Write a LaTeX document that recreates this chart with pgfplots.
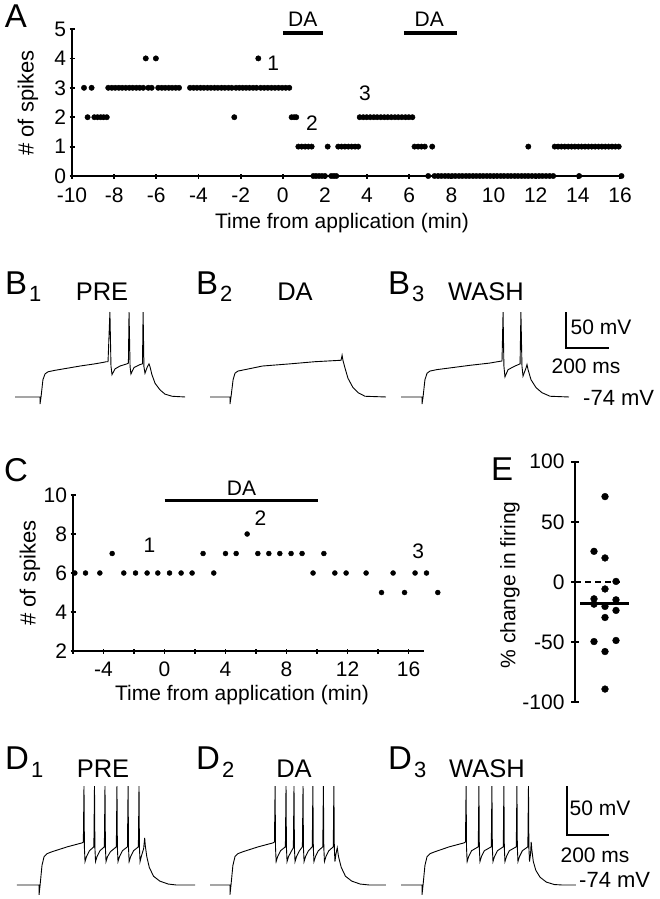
\documentclass[border=0pt]{standalone}
\usepackage{pgfplots}
\pgfplotsset{compat=1.18}
\usepackage{fontspec}
\setmainfont{Liberation Sans}
\newcommand{\fs}[1]{\fontsize{#1}{#1}\selectfont}
\pgfplotsset{
  trace/.style={scale only axis, axis lines=none, xmin=0, xmax=1000, ymin=-90, ymax=50, width=210pt, clip=false},
  panel/.style={scale only axis, clip=false,
     tick align=outside, major tick length=5pt, tick style={line width=1.8pt,black},
     tick label style={font=\fs{21}}},
  nolinearrows/.style={axis line style={-,line width=2pt},
     every outer x axis line/.append style={-,line width=2pt},
     every outer y axis line/.append style={-,line width=2pt},
     x axis line style={-}, y axis line style={-}},
}
\begin{document}
\begin{tikzpicture}
\path[use as bounding box] (0,0) rectangle (659pt,-899pt);
% ---------------- Panel A
\begin{axis}[panel, at={(72pt,-176pt)}, anchor=south west, width=548pt, height=147pt,
  xmin=-10, xmax=16, ymin=0, ymax=5, axis x line=bottom, axis y line=left, nolinearrows,
  xticklabel style={yshift=-6pt},
  xtick={-10,-8,...,16}, xticklabels={-10,-8,-6,-4,-2,0,2,4,6,8,10,12,14,16},
  ytick={0,1,2,3,4,5}, yticklabels={0,1,2,3,4,5}]
\addplot[only marks, mark=*, mark size=2.7pt, black] coordinates {
(-9.43,3)(-9.26,2)(-9.07,3)(-8.94,2)(-8.79,2)(-8.64,2)(-8.50,2)(-8.35,2)
(-8.28,3)(-8.11,3)(-7.95,3)(-7.78,3)(-7.62,3)(-7.45,3)(-7.28,3)(-7.12,3)(-6.95,3)(-6.79,3)(-6.62,3)
(-6.50,4)(-6.38,3)(-6.22,3)(-6.02,4)
(-5.91,3)(-5.74,3)(-5.58,3)(-5.41,3)(-5.25,3)(-5.08,3)(-4.92,3)
(-4.40,3)(-4.23,3)(-4.07,3)(-3.90,3)(-3.74,3)(-3.57,3)(-3.41,3)(-3.24,3)(-3.08,3)(-2.91,3)(-2.75,3)(-2.58,3)(-2.42,3)
(-2.30,2)
(-2.22,3)(-2.06,3)(-1.90,3)(-1.74,3)(-1.58,3)(-1.41,3)(-1.25,3)
(-1.16,4)
(-1.05,3)(-0.88,3)(-0.71,3)(-0.54,3)(-0.37,3)(-0.20,3)(-0.03,3)(0.14,3)(0.31,3)
(0.42,2)(0.54,2)(0.64,2)
(0.74,1)(0.90,1)(1.06,1)(1.21,1)(1.37,1)
(1.45,0)(1.58,0)(1.72,0)(1.86,0)(2.00,0)
(2.13,1)
(2.30,0)(2.42,0)(2.54,0)
(2.63,1)(2.79,1)(2.95,1)(3.11,1)(3.27,1)(3.43,1)(3.58,1)
(3.65,2)(3.82,2)(3.98,2)(4.15,2)(4.32,2)(4.48,2)(4.65,2)(4.82,2)(4.98,2)(5.15,2)(5.32,2)(5.48,2)(5.65,2)(5.82,2)(5.98,2)(6.15,2)
(6.25,1)(6.42,1)(6.58,1)(6.74,1)
(6.90,0)
(7.09,1)
(7.20,0)(7.37,0)(7.53,0)(7.70,0)(7.86,0)(8.03,0)(8.19,0)(8.36,0)(8.52,0)(8.69,0)(8.85,0)(9.02,0)(9.18,0)(9.35,0)(9.51,0)(9.68,0)(9.84,0)(10.01,0)(10.17,0)(10.34,0)(10.50,0)(10.67,0)(10.83,0)(11.00,0)(11.16,0)(11.33,0)(11.49,0)
(11.65,1)
(11.65,0)(11.82,0)(11.99,0)(12.16,0)(12.32,0)(12.49,0)(12.66,0)(12.83,0)
(12.90,1)(13.06,1)(13.22,1)(13.38,1)(13.54,1)(13.70,1)(13.86,1)(14.02,1)
(14.06,0)
(14.18,1)(14.34,1)(14.50,1)(14.66,1)(14.82,1)(14.98,1)(15.14,1)(15.30,1)(15.46,1)(15.62,1)(15.78,1)(15.94,1)
(16.07,0)
};
\draw[line width=4pt] (axis cs:0,4.86) -- (axis cs:1.9,4.86);
\draw[line width=4pt] (axis cs:5.75,4.86) -- (axis cs:8.25,4.86);
\node[font=\fs{21},inner sep=0] at (axis cs:0.95,5.33) {DA};
\node[font=\fs{21},inner sep=0] at (axis cs:6.95,5.33) {DA};
\node[font=\fs{21},inner sep=0] at (axis cs:-0.45,3.84) {1};
\node[font=\fs{21},inner sep=0] at (axis cs:1.38,1.80) {2};
\node[font=\fs{21},inner sep=0] at (axis cs:3.90,2.82) {3};
\end{axis}
% ---------------- Panel B traces
\begin{axis}[trace, at={(15pt,-408.5pt)}, anchor=south west, height=100.8pt]
\addplot[black, line width=0.9pt] coordinates {
(0,-74)(119,-74)(119,-84)(124,-74)(133,-50)(143,-42)(157,-39)(190,-37)(250,-34)(310,-31)(380,-28)(419,-26)(435,-25)(443,-25)(452,44)(457,-31)(462,-43)(476,-35)(500,-31)(533,-28)(540,-27)(543,44)(548,-32)(552,-42)(567,-33)(595,-29)(607,-28)(610,44)(614,-32)(619,-41)(629,-33)(638,-28)(643,-32)(652,-43)(667,-55)(690,-64)(714,-70)(748,-73)(810,-74)};
\end{axis}
\begin{axis}[trace, at={(210pt,-408.5pt)}, anchor=south west, height=100.8pt]
\addplot[black, line width=0.9pt] coordinates {
(0,-74)(95,-74)(95,-84)(100,-74)(110,-50)(119,-41)(133,-38)(167,-36)(250,-31)(381,-28)(500,-25)(624,-23)(629,-16)(633,-23)(643,-34)(657,-48)(681,-61)(705,-68)(738,-73)(838,-74)};
\end{axis}
\begin{axis}[trace, at={(401pt,-408.5pt)}, anchor=south west, height=100.8pt]
\addplot[black, line width=0.9pt] coordinates {
(0,-74)(100,-74)(100,-84)(105,-74)(114,-50)(124,-41)(138,-38)(171,-36)(250,-33)(329,-30)(420,-27)(481,-24)(486,44)(490,-31)(495,-46)(510,-36)(543,-31)(567,-28)(571,44)(576,-31)(581,-45)(595,-34)(600,-29)(605,-36)(619,-50)(643,-61)(671,-68)(710,-73)(800,-74)};
\draw[line width=2.5pt] (axis cs:786,44) -- (axis cs:786,-6) -- (axis cs:990,-6);
\end{axis}
% ---------------- Panel C
\begin{axis}[panel, at={(73pt,-651pt)}, anchor=south west, width=350.75pt, height=156pt,
  xmin=-6, xmax=17, ymin=2, ymax=10, axis x line=bottom, axis y line=left, nolinearrows,
  xticklabel style={yshift=-5pt},
  xtick={-6,-4,...,16}, xticklabels={,-4,,0,,4,,8,,12,,16},
  ytick={2,4,6,8,10}, yticklabels={2,4,6,8,10}]
\addplot[only marks, mark=*, mark size=2.5pt, black] coordinates {
(-5.88,6)(-5.18,6)(-4.24,6)(-3.43,7)(-2.67,6)(-1.90,6)(-1.14,6)(-0.44,6)(0.33,6)(1.09,6)(1.81,6)(2.53,7)(3.23,6)(4.0,7)(4.7,7)(5.42,8)(6.12,7)(6.84,7)(7.56,7)(8.30,7)(9.02,7)(9.74,6)(10.45,7)(11.17,6)(11.91,6)(13.22,6)(14.23,5)(14.99,6)(15.74,5)(16.43,6)(17.18,6)(17.92,5)};
\draw[line width=3.6pt] (axis cs:0,9.71) -- (axis cs:10.05,9.71);
\node[font=\fs{21},inner sep=0] at (axis cs:5.05,10.34) {DA};
\node[font=\fs{21},inner sep=0] at (axis cs:-0.98,7.44) {1};
\node[font=\fs{21},inner sep=0] at (axis cs:6.3,8.8) {2};
\node[font=\fs{21},inner sep=0] at (axis cs:16.63,7.14) {3};
\end{axis}
% ---------------- Panel E
\begin{axis}[panel, at={(575pt,-702.3pt)}, anchor=south west, width=60pt, height=240.6pt,
  xmin=0, xmax=6, ymin=-100, ymax=100, axis y line=left, axis x line=none, nolinearrows,
  major tick length=8pt, yticklabel style={xshift=-3pt},
  ytick={-100,-50,0,50,100}, yticklabels={-100,-50,0,50,100}]
\draw[line width=1.5pt, dash pattern=on 6pt off 4pt] (axis cs:0,0) -- (axis cs:4.5,0);
\draw[line width=2.5pt] (axis cs:0.5,-18) -- (axis cs:5.43,-18);
\addplot[only marks, mark=*, mark size=3.4pt, black] coordinates {
(3.0,71)(1.9,25.5)(3.0,20)(4.1,0.5)(3.0,-5.8)(1.9,-14)(4.1,-14.8)(1.9,-18.4)(3.0,-20.3)(4.1,-23.6)(3.0,-29.5)(1.9,-49.5)(4.1,-48.6)(3.0,-57.8)(3.0,-89)};
\end{axis}
% ---------------- Panel D traces
\begin{axis}[trace, at={(17pt,-900.7pt)}, anchor=south west, height=137.2pt]
\addplot[black, line width=0.9pt] coordinates {
(0,-74)(105,-74)(105,-84)(110,-74)(119,-54)(129,-45)(143,-42)(167,-40)(240,-35)(310,-31)(316,-30)(319,27)(321,-36)(324,-50)(331,-45)(345,-39)(366,-35)(369,27)(371,-36)(374,-50)(381,-45)(395,-39)(416,-35)(419,27)(421,-36)(424,-50)(431,-45)(445,-40)(473,-35)(476,27)(478,-36)(481,-50)(488,-45)(502,-39)(526,-35)(529,27)(531,-36)(534,-50)(541,-45)(555,-39)(578,-35)(581,27)(583,-36)(586,-50)(593,-44)(603,-37)(608,-26)(611,-34)(618,-45)(630,-56)(650,-65)(680,-70)(720,-73)(760,-74)(848,-74)};
\end{axis}
\begin{axis}[trace, at={(210pt,-900.7pt)}, anchor=south west, height=137.2pt]
\addplot[black, line width=0.9pt] coordinates {
(0,-74)(95,-74)(95,-84)(100,-74)(109,-54)(119,-45)(133,-42)(157,-40)(230,-35)(300,-31)(307,-30)(310,27)(312,-36)(315,-50)(322,-45)(336,-39)(359,-35)(362,27)(364,-36)(367,-50)(374,-45)(386,-40)(397,-36)(400,27)(402,-36)(405,-50)(412,-45)(426,-39)(440,-35)(443,27)(445,-36)(448,-50)(455,-45)(469,-39)(487,-35)(490,27)(492,-36)(495,-50)(502,-45)(516,-39)(537,-35)(540,27)(542,-36)(545,-50)(552,-45)(566,-39)(587,-35)(590,27)(592,-36)(595,-50)(600,-42)(606,-36)(612,-45)(625,-56)(645,-65)(675,-70)(715,-73)(760,-74)(838,-74)};
\end{axis}
\begin{axis}[trace, at={(401pt,-900.7pt)}, anchor=south west, height=137.2pt]
\addplot[black, line width=0.9pt] coordinates {
(0,-74)(100,-74)(100,-84)(105,-74)(114,-54)(124,-45)(138,-42)(162,-40)(230,-35)(300,-31)(307,-30)(310,27)(312,-36)(315,-50)(322,-45)(336,-39)(368,-35)(371,27)(373,-36)(376,-50)(383,-45)(397,-39)(430,-35)(433,27)(435,-36)(438,-50)(445,-45)(459,-39)(487,-35)(490,27)(492,-36)(495,-50)(502,-45)(516,-39)(549,-35)(552,27)(554,-36)(557,-50)(564,-45)(578,-39)(604,-35)(607,27)(609,-36)(612,-50)(617,-42)(620,-30)(623,-38)(630,-50)(642,-59)(662,-66)(692,-71)(730,-73.5)(770,-74)(833,-74)};
\draw[line width=2.5pt] (axis cs:790,27) -- (axis cs:790,-23) -- (axis cs:990,-23);
\end{axis}
% ---------------- Text
\begin{scope}[x=1pt,y=-1pt]
\node[font=\fs{33},inner sep=0] at (16,16) {A};
\node[font=\fs{22},inner sep=0,rotate=90] at (28,103) {\# of spikes};
\node[font=\fs{21},inner sep=0] at (342,223) {Time from application (min)};
% B row
\node[font=\fs{33},inner sep=0,anchor=base west] at (5,294) {B};
\node[font=\fs{22},inner sep=0,anchor=base west] at (29,301) {1};
\node[font=\fs{25.5},inner sep=0,anchor=base] at (102,300) {PRE};
\node[font=\fs{33},inner sep=0,anchor=base west] at (196,294) {B};
\node[font=\fs{22},inner sep=0,anchor=base west] at (220,301) {2};
\node[font=\fs{25.5},inner sep=0,anchor=base] at (295,300) {DA};
\node[font=\fs{33},inner sep=0,anchor=base west] at (388,294) {B};
\node[font=\fs{22},inner sep=0,anchor=base west] at (412,301) {3};
\node[font=\fs{25.5},inner sep=0,anchor=base] at (486,300) {WASH};
\node[font=\fs{21},inner sep=0] at (601,327) {50 mV};
\node[font=\fs{21},inner sep=0] at (586,366) {200 ms};
\node[font=\fs{22},inner sep=0,anchor=west] at (583,398) {-74 mV};
% C
\node[font=\fs{33},inner sep=0] at (16,470) {C};
\node[font=\fs{22},inner sep=0,rotate=90] at (30,573) {\# of spikes};
\node[font=\fs{21},inner sep=0] at (242,695) {Time from application (min)};
% E
\node[font=\fs{33},inner sep=0] at (502,469) {E};
\node[font=\fs{21},inner sep=0,rotate=90] at (510,585) {\% change in firing};
% D row
\node[font=\fs{33},inner sep=0,anchor=base west] at (5,769) {D};
\node[font=\fs{22},inner sep=0,anchor=base west] at (31,777) {1};
\node[font=\fs{25.5},inner sep=0,anchor=base] at (103,777) {PRE};
\node[font=\fs{33},inner sep=0,anchor=base west] at (196,769) {D};
\node[font=\fs{22},inner sep=0,anchor=base west] at (222,777) {2};
\node[font=\fs{25.5},inner sep=0,anchor=base] at (294,777) {DA};
\node[font=\fs{33},inner sep=0,anchor=base west] at (388,769) {D};
\node[font=\fs{22},inner sep=0,anchor=base west] at (414,777) {3};
\node[font=\fs{25.5},inner sep=0,anchor=base] at (487,777) {WASH};
\node[font=\fs{21},inner sep=0] at (600,808) {50 mV};
\node[font=\fs{21},inner sep=0] at (595,855) {200 ms};
\node[font=\fs{22},inner sep=0,anchor=west] at (579,880) {-74 mV};
\end{scope}
\end{tikzpicture}
\end{document}
